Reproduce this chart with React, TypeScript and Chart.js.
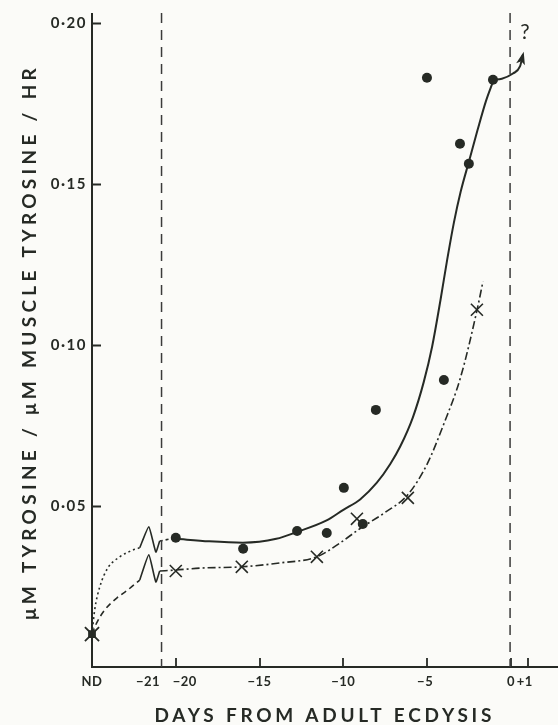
import React, { useEffect, useRef } from 'react';
import { Chart, registerables } from 'chart.js';

Chart.register(...registerables);

// ---- axes ----
const X_MIN = -25;
const X_MAX = 2.81;
const Y_MIN = 0;
const Y_MAX = 0.203;

const X_TICK_VALUES = [-25, -21, -20, -15, -10, -5, 0, 1];
const X_TICK_LABELS = ['ND', '\u221221', '\u221220', '\u221215', '\u221210', '\u22125', '0', '+1'];
const X_TICK_MARKS = [-20, -15, -10, -5, 0, 1];
const Y_TICK_VALUES = [0.05, 0.1, 0.15, 0.2];
const Y_TICK_LABELS = ['0\u00b705', '0\u00b710', '0\u00b715', '0\u00b720'];

const X_TITLE = 'DAYS FROM ADULT ECDYSIS';
const Y_TITLE = '\u03bcM TYROSINE / \u03bcM MUSCLE TYROSINE / HR';

// ---- reference lines (days) ----
const BREAK_LINE_X = -20.85;
const ECDYSIS_LINE_X = -0.05;

// ---- measured points ----
const ND_X = [-25];
const ND_Y = [0.0102];

const DOT_X = [-20, -15.98, -12.76, -10.99, -9.97, -8.84, -8.06, -5.01, -4.0, -3.04, -2.51, -1.07];
const DOT_Y = [0.0401, 0.0367, 0.0422, 0.0416, 0.0556, 0.0444, 0.0798, 0.1829, 0.0891, 0.1624, 0.1562, 0.1823];

const CROSS_X = [-20, -16.06, -11.58, -9.19, -6.15, -2.03];
const CROSS_Y = [0.0298, 0.0311, 0.0342, 0.046, 0.0525, 0.1109];

// ---- fitted curves ----
const DOT_LEAD_X = [-25, -24.84, -24.54, -24.06, -23.34, -22.57, -22.15];
const DOT_LEAD_Y = [0.0102, 0.0177, 0.0248, 0.0307, 0.0342, 0.0363, 0.037];
const DOT_BREAK_X = [-22.15, -21.61, -21.19, -20.96];
const DOT_BREAK_Y = [0.037, 0.0435, 0.0357, 0.0391];
const DOT_LINK_X = [-20.96, -20];
const DOT_LINK_Y = [0.0391, 0.0401];
const DOT_CURVE_X = [-20, -18, -16, -14, -12.78, -11, -10, -9, -8, -7.2, -6.6, -5.85, -5.2, -4.7, -4.2, -3.8, -3.4, -3.0, -2.5, -2.0, -1.5, -1.07];
const DOT_CURVE_Y = [0.0398, 0.039, 0.0386, 0.0398, 0.0419, 0.0455, 0.0488, 0.052, 0.0572, 0.063, 0.0685, 0.0775, 0.0885, 0.0995, 0.114, 0.1265, 0.138, 0.1475, 0.157, 0.1665, 0.1755, 0.1817];
const ARROW_X = [-1.07, -0.54, 0.12, 0.54, 0.72];
const ARROW_Y = [0.1823, 0.1826, 0.1842, 0.1864, 0.1901];
const QUESTION_X = 0.84;
const QUESTION_Y = 0.1969;

const CROSS_LEAD_X = [-25, -24.72, -24.24, -23.52, -22.87, -22.15];
const CROSS_LEAD_Y = [0.0102, 0.0137, 0.0177, 0.0214, 0.0239, 0.027];
const CROSS_BREAK_X = [-22.15, -21.61, -21.19, -20.96];
const CROSS_BREAK_Y = [0.027, 0.0348, 0.0264, 0.0298];
const CROSS_CURVE_X = [-20.96, -20, -18.57, -16.06, -13.79, -11.58, -10.2, -9.0, -7.5, -6.15, -5.0, -4.0, -3.0, -2.03, -1.67];
const CROSS_CURVE_Y = [0.0298, 0.0301, 0.0307, 0.0311, 0.0323, 0.0342, 0.0385, 0.043, 0.048, 0.0535, 0.063, 0.0755, 0.09, 0.1106, 0.1196];

const INK = '#262a25';
const BG = '#fbfbf8';
const FONT = 'Lato, "DejaVu Sans", sans-serif';

const zip = (xs: number[], ys: number[]) => xs.map((x, i) => ({ x, y: ys[i] }));

function spacedText(ctx: CanvasRenderingContext2D, text: string, cx: number, cy: number, target: number) {
  (ctx as any).letterSpacing = '0px';
  const w = ctx.measureText(text).width;
  const n = Array.from(text).length;
  const sp = n > 1 ? (target - w) / (n - 1) : 0;
  (ctx as any).letterSpacing = sp.toFixed(2) + 'px';
  ctx.textAlign = 'left';
  ctx.fillText(text, cx - target / 2, cy);
  (ctx as any).letterSpacing = '0px';
}

const decor = {
  id: 'decor',
  beforeDraw(chart: any) {
    const { ctx, width, height } = chart;
    ctx.save();
    ctx.fillStyle = BG;
    ctx.fillRect(0, 0, width, height);
    ctx.restore();
  },
  beforeDatasetsDraw(chart: any) {
    const { ctx, chartArea, scales } = chart;
    const xs = scales.x;
    const ys = scales.y;
    ctx.save();
    ctx.strokeStyle = INK;
    ctx.lineWidth = 2;
    ctx.lineCap = 'butt';
    ctx.beginPath();
    ctx.moveTo(chartArea.left, chartArea.top);
    ctx.lineTo(chartArea.left, chartArea.bottom);
    ctx.lineTo(chartArea.right, chartArea.bottom);
    ctx.stroke();
    // inward tick marks
    ctx.lineWidth = 1.8;
    ctx.beginPath();
    Y_TICK_VALUES.forEach((v) => {
      const py = Math.round(ys.getPixelForValue(v)) + 0.5;
      ctx.moveTo(chartArea.left, py);
      ctx.lineTo(chartArea.left + 9, py);
    });
    X_TICK_MARKS.forEach((v) => {
      const px = Math.round(xs.getPixelForValue(v));
      ctx.moveTo(px, chartArea.bottom);
      ctx.lineTo(px, chartArea.bottom - 9);
    });
    ctx.stroke();
    ctx.restore();
  },
  afterDraw(chart: any) {
    const { ctx, chartArea, scales } = chart;
    const xs = scales.x;
    const ys = scales.y;
    ctx.save();
    ctx.fillStyle = INK;
    ctx.textBaseline = 'middle';

    // y tick labels
    ctx.font = 'bold 15px ' + FONT;
    (ctx as any).letterSpacing = '1.5px';
    ctx.textAlign = 'right';
    Y_TICK_VALUES.forEach((v, i) => {
      ctx.fillText(Y_TICK_LABELS[i], chartArea.left - 5, ys.getPixelForValue(v));
    });
    (ctx as any).letterSpacing = '0px';

    // x tick labels
    const nudge: Record<string, number> = { '\u221221': -11, '\u221220': 9, '\u22125': -2, '+1': -3 };
    ctx.font = 'bold 13px ' + FONT;
    (ctx as any).letterSpacing = '0.5px';
    ctx.textAlign = 'center';
    X_TICK_VALUES.forEach((v, i) => {
      const lab = X_TICK_LABELS[i];
      ctx.fillText(lab, xs.getPixelForValue(v) + (nudge[lab] || 0), chartArea.bottom + 15);
    });
    (ctx as any).letterSpacing = '0px';

    // axis titles
    ctx.font = 'bold 19px ' + FONT;
    spacedText(ctx, X_TITLE, 323, 716, 337);
    ctx.save();
    ctx.translate(30, 344);
    ctx.rotate(-Math.PI / 2);
    spacedText(ctx, Y_TITLE, 0, 0, 552);
    ctx.restore();

    // arrowhead at end of the extrapolation arrow
    const n = ARROW_X.length;
    const tx = xs.getPixelForValue(ARROW_X[n - 1]);
    const ty = ys.getPixelForValue(ARROW_Y[n - 1]);
    const bx = xs.getPixelForValue(ARROW_X[n - 2]);
    const by = ys.getPixelForValue(ARROW_Y[n - 2]);
    const ang = Math.atan2(ty - by, tx - bx);
    const L = 10;
    const W = 4.5;
    ctx.beginPath();
    ctx.moveTo(tx + Math.cos(ang) * 3, ty + Math.sin(ang) * 3);
    ctx.lineTo(tx - Math.cos(ang) * L + Math.cos(ang + Math.PI / 2) * W, ty - Math.sin(ang) * L + Math.sin(ang + Math.PI / 2) * W);
    ctx.lineTo(tx - Math.cos(ang) * (L - 3), ty - Math.sin(ang) * (L - 3));
    ctx.lineTo(tx - Math.cos(ang) * L - Math.cos(ang + Math.PI / 2) * W, ty - Math.sin(ang) * L - Math.sin(ang + Math.PI / 2) * W);
    ctx.closePath();
    ctx.fill();

    // question mark
    ctx.font = '21px ' + FONT;
    ctx.textAlign = 'center';
    ctx.fillText('?', xs.getPixelForValue(QUESTION_X), ys.getPixelForValue(QUESTION_Y));
    ctx.restore();
  },
};

export default function App() {
  const ref = useRef<HTMLCanvasElement | null>(null);

  useEffect(() => {
    if (!ref.current) return;
    const line = (xs: number[], ys: number[], extra: any) => ({
      type: 'line',
      data: zip(xs, ys),
      showLine: true,
      fill: false,
      pointRadius: 0,
      pointHoverRadius: 0,
      borderColor: INK,
      borderWidth: 1.6,
      clip: false,
      ...extra,
    });
    const chart = new Chart(ref.current, {
      type: 'scatter',
      data: {
        datasets: [
          line([BREAK_LINE_X, BREAK_LINE_X], [Y_MAX, Y_MIN], { borderDash: [10, 7], borderWidth: 1.5, borderColor: '#3b3b3b' }),
          line([ECDYSIS_LINE_X, ECDYSIS_LINE_X], [Y_MAX, Y_MIN], { borderDash: [10, 7], borderWidth: 1.5, borderColor: '#3b3b3b' }),
          line(DOT_LEAD_X, DOT_LEAD_Y, { borderDash: [2, 3], cubicInterpolationMode: 'monotone' }),
          line(DOT_BREAK_X, DOT_BREAK_Y, { tension: 0.15 }),
          line(DOT_LINK_X, DOT_LINK_Y, { borderDash: [3, 3] }),
          line(DOT_CURVE_X, DOT_CURVE_Y, { borderWidth: 2, cubicInterpolationMode: 'monotone' }),
          line(ARROW_X, ARROW_Y, { borderWidth: 2, cubicInterpolationMode: 'monotone' }),
          line(CROSS_LEAD_X, CROSS_LEAD_Y, { borderDash: [6, 4], cubicInterpolationMode: 'monotone' }),
          line(CROSS_BREAK_X, CROSS_BREAK_Y, { tension: 0.15 }),
          line(CROSS_CURVE_X, CROSS_CURVE_Y, { borderDash: [8, 3, 2, 3], cubicInterpolationMode: 'monotone' }),
          {
            data: zip(DOT_X, DOT_Y),
            pointStyle: 'circle',
            pointRadius: 5,
            pointBackgroundColor: INK,
            pointBorderWidth: 0,
            clip: false,
          },
          {
            data: zip(CROSS_X, CROSS_Y),
            pointStyle: 'crossRot',
            pointRadius: 8.5,
            pointBorderColor: INK,
            pointBorderWidth: 1.6,
            clip: false,
          },
          {
            data: zip(ND_X, ND_Y),
            pointStyle: 'rect',
            pointRadius: 5.5,
            pointBackgroundColor: INK,
            pointBorderWidth: 0,
            clip: false,
          },
          {
            data: zip(ND_X, ND_Y),
            pointStyle: 'crossRot',
            pointRadius: 10,
            pointBorderColor: INK,
            pointBorderWidth: 1.8,
            clip: false,
          },
        ] as any,
      },
      options: {
        animation: false,
        responsive: false,
        devicePixelRatio: 1,
        events: [],
        layout: { autoPadding: false, padding: { left: 92, right: 0, top: 13, bottom: 58 } },
        plugins: { legend: { display: false }, tooltip: { enabled: false } },
        scales: {
          x: { type: 'linear', min: X_MIN, max: X_MAX, display: false },
          y: { type: 'linear', min: Y_MIN, max: Y_MAX, display: false },
        },
      } as any,
      plugins: [decor],
    });
    return () => chart.destroy();
  }, []);

  return (
    <div style={{ position: 'fixed', left: 0, top: 0, width: 558, height: 725, background: BG }}>
      <canvas ref={ref} width={558} height={725} style={{ display: 'block', width: 558, height: 725 }} />
    </div>
  );
}
